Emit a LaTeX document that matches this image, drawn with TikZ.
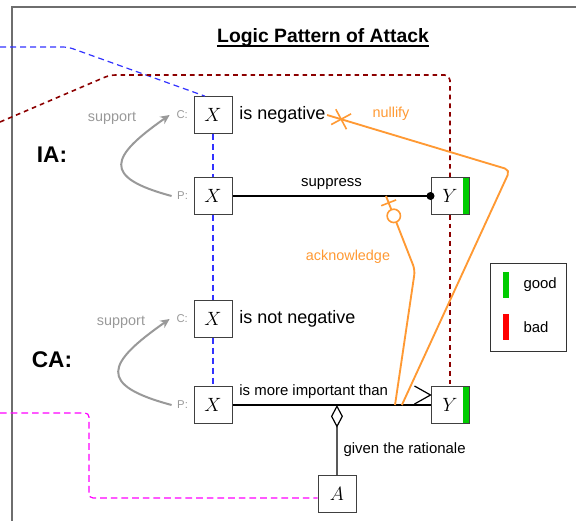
\documentclass[tikz,border=0pt]{standalone}
\usepackage{fontspec}
\setmainfont{Liberation Sans}
\usetikzlibrary{positioning,calc,arrows.meta,decorations.markings}

\definecolor{supgray}{RGB}{153,153,153}
\definecolor{attorange}{RGB}{255,153,51}
\definecolor{linkblue}{RGB}{51,51,255}
\definecolor{attred}{RGB}{140,0,0}
\definecolor{refpink}{RGB}{255,0,255}
\definecolor{goodgreen}{RGB}{0,204,0}
\definecolor{badred}{RGB}{255,0,0}
\definecolor{framegray}{RGB}{110,110,110}

\begin{document}
\begin{tikzpicture}[x=0.75pt, y=-0.75pt,
    box/.style={draw=black!75, line width=0.75pt, fill=white, minimum width=28.5pt, minimum height=27.5pt, inner sep=0pt, font=\fontsize{15}{17}\selectfont},
    goodbox/.style={box, path picture={\fill[goodgreen] ([xshift=-4.5pt]path picture bounding box.north east) rectangle (path picture bounding box.south east);}},
    rolelab/.style={text=supgray, font=\fontsize{8.5}{10}\selectfont, inner sep=1pt},
    claim/.style={font=\fontsize{13.5}{16}\selectfont, inner sep=1pt},
    edgelab/.style={font=\fontsize{11.2}{13}\selectfont, inner sep=1pt},
    tag/.style={font=\bfseries\fontsize{17}{20}\selectfont},
    suplab/.style={text=supgray, font=\fontsize{10.8}{13}\selectfont},
    attlab/.style={text=attorange, font=\fontsize{10.8}{13}\selectfont},
    conn/.style={draw=black, line width=0.9pt},
    suparrow/.style={draw=supgray, line width=1.5pt, -{Stealth[length=7pt, width=6.5pt]}},
    attline/.style={draw=attorange, line width=1.4pt, rounded corners=4pt},
    linkdash/.style={draw=linkblue, line width=0.9pt, dash pattern=on 4.5pt off 3pt},
    attdash/.style={draw=attred, line width=1.2pt, dash pattern=on 3.5pt off 3pt, rounded corners=4pt},
    refdash/.style={draw=refpink, line width=0.9pt, dash pattern=on 5pt off 3pt, rounded corners=3pt}
  ]
  \useasboundingbox (0,0) rectangle (576,521);
  \draw[framegray, line width=0.8pt] (12,521) -- (12,7) -- (576,7);

  % title
  \node[font=\bfseries\fontsize{14.5}{17}\selectfont, anchor=base, inner sep=0pt] (title) at (323,42) {Logic Pattern of Attack};
  \draw[line width=1.4pt] ($(title.base west)+(0,4)$) -- ($(title.base east)+(0,4)$);

  % IA
  \node[box] (iaC) at (213,115) {$X$};
  \node[rolelab, left=3pt of iaC] (iaCl) {C:};
  \node[claim, right=4pt of iaC] (iaNeg) {is negative};
  \node[box] (iaP) at (213,196) {$X$};
  \node[rolelab, left=3pt of iaP] (iaPl) {P:};
  \node[goodbox] (iaY) at (450,196) {$Y$};
  \node[tag] (iaTag) at (52,155) {IA:};
  \node[suplab] (iaSup) at (112,118) {support};

  % CA
  \node[box] (caC) at (213,319) {$X$};
  \node[rolelab, left=3pt of caC] (caCl) {C:};
  \node[claim, right=4pt of caC] (caNeg) {is not negative};
  \node[box] (caP) at (213,405) {$X$};
  \node[rolelab, left=3pt of caP] (caPl) {P:};
  \node[goodbox] (caY) at (450,405) {$Y$};
  \node[tag] (caTag) at (52,360) {CA:};
  \node[suplab] (caSup) at (121,322) {support};

  \node[box] (rat) at (337,494) {$A$};

  % legend
  \node[draw=black!80, line width=0.75pt, minimum width=57pt, minimum height=66pt] (legend) at (528,307) {};
  \node[fill=goodgreen, minimum width=4.5pt, minimum height=20pt, inner sep=0pt] (goodBar) at (506,285) {};
  \node[edgelab, right=9.5pt of goodBar] (goodLab) {good};
  \node[fill=badred, minimum width=4.5pt, minimum height=20pt, inner sep=0pt] (badBar) at (506,327) {};
  \node[edgelab, right=9.5pt of badBar] (badLab) {bad};

  % support
  \draw[suparrow] ([xshift=-3pt]iaPl.west) to[out=165, in=215, looseness=2.3] ([xshift=-4pt]iaCl.west);
  \draw[suparrow] ([xshift=-3pt]caPl.west) to[out=165, in=215, looseness=2.3] ([xshift=-4pt]caCl.west);

  % suppress
  \draw[conn] (iaP.east) -- node[edgelab, above=3.5pt] (supLab) {suppress} (iaY.west);
  \fill (iaY.west) circle (3pt);

  % more important
  \draw[conn] (caP.east) -- node[edgelab, pos=0.41, above=3pt] (moreLab) {is more important than} (caY.west);
  \draw[conn] ($(caY.west)+(-16,-19)$) -- ($(caY.west)+(0,-10)$) -- ($(caY.west)+(-16,-1)$);

  % rationale
  \coordinate (ratJoin) at ($(caP)!0.523!(caY)$);
  \draw[conn, {Diamond[open, length=17pt, width=9pt]}-] (ratJoin) -- node[edgelab, pos=0.63, right=3.5pt] (ratLab) {given the rationale} (rat.north);

  % blue link
  \coordinate (linkIn) at (0,47);
  \draw[linkdash, rounded corners=4pt] (linkIn) -- (68,47) -- ([xshift=-6pt]iaC.north);
  \draw[linkdash] (iaC.south) -- (iaP.north);
  \draw[linkdash] (iaP.south) -- (caC.north);
  \draw[linkdash] (caC.south) -- (caP.north);

  % red link
  \coordinate (attIn) at (0,122);
  \coordinate (attTop) at (110,75);
  \draw[attdash] (attIn) -- (attTop) -- (iaY.north |- attTop) -- (iaY.north);
  \draw[attdash] (iaY.south) -- (caY.north);

  % pink link
  \coordinate (refIn) at (0,413);
  \coordinate (refTurn) at (89,413);
  \draw[refdash] (refIn) -- (refTurn) |- ([yshift=-3pt]rat.west);

  % nullify
  \coordinate (nullBend) at (510,170);
  \coordinate (nullHit) at ($(caP)!0.797!(caY)$);
  \draw[attline, postaction={decorate, decoration={markings, mark=at position 11pt with {\draw[attorange, line width=1.2pt] (-6pt,-6pt) -- (6pt,6pt) (-6pt,6pt) -- (6pt,-6pt);}}}] (iaNeg.east) -- (nullBend) -- (nullHit);
  \node[attlab] (nullLab) at (391,114) {nullify};

  % acknowledge
  \coordinate (ackFoot) at ($(iaP)!0.73!(iaY)$);
  \coordinate (ackBend) at (415,270);
  \coordinate (ackHit) at ($(caP)!0.768!(caY)$);
  \draw[attline, postaction={decorate, decoration={markings, mark=at position 5.5pt with {\draw[attorange, line width=1.2pt] (0,-6pt) -- (0,6pt);}, mark=at position 16pt with {\draw[attorange, line width=1.2pt, fill=white] (0,0) circle (5pt);}}}] (ackFoot) -- (ackBend) -- (ackHit);
  \node[attlab] (ackLab) at (348,257) {acknowledge};
\end{tikzpicture}
\end{document}
